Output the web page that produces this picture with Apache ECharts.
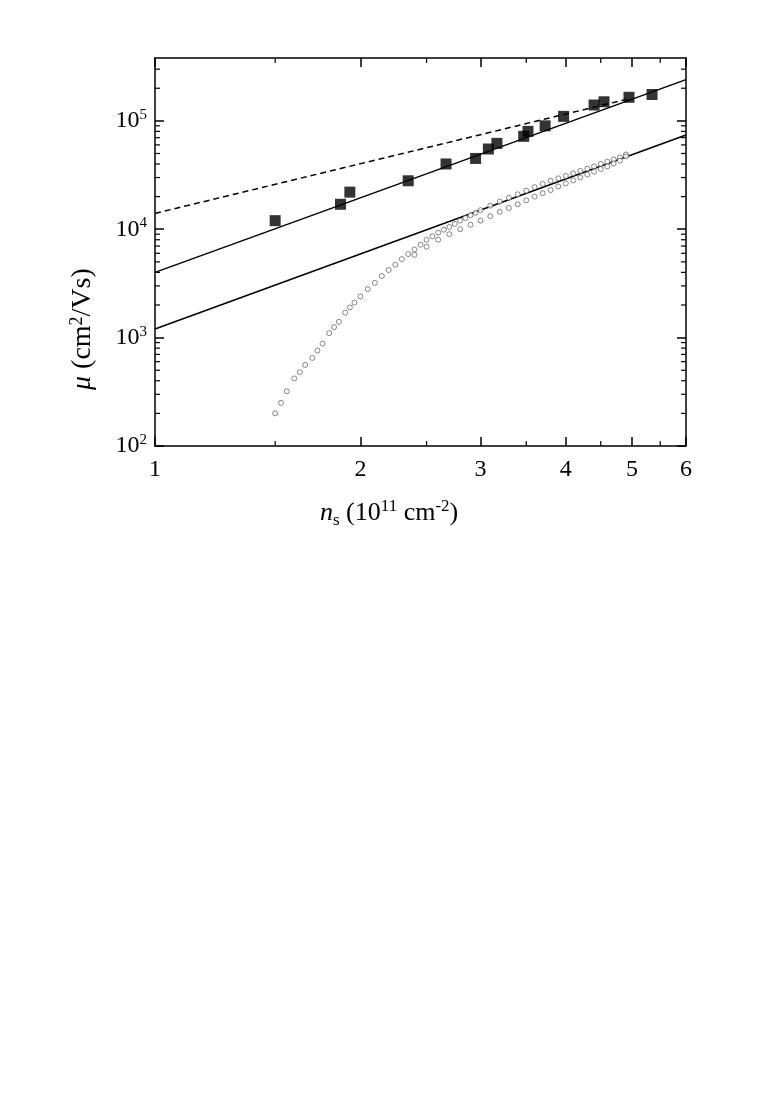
<!DOCTYPE html><html><head><meta charset="utf-8"><script src="https://cdn.jsdelivr.net/npm/echarts@6/dist/echarts.min.js"></script></head><body style="margin:0;background:#fff"><div id="c" style="width:777px;height:1118px"></div><script>
const sqX=[1.5,1.87,1.93,2.35,2.67,2.95,3.08,3.17,3.47,3.52,3.73,3.97,4.4,4.55,4.95,5.35];
const sqY=[12000,17000,22000,28000,40000,45000,55000,62000,72000,80000,90000,110000,140000,150000,165000,175000];
const upX=[1.5,1.53,1.56,1.6,1.63,1.66,1.7,1.73,1.76,1.8,1.83,1.86,1.9,1.93,1.96,2.0,2.05,2.1,2.15,2.2,2.25,2.3,2.35,2.4,2.45,2.5,2.55,2.6,2.65,2.7,2.75,2.8,2.85,2.9,2.95,3.0,3.1,3.2,3.3,3.4,3.5,3.6,3.7,3.8,3.9,4.0,4.1,4.2,4.3,4.4,4.5,4.6,4.7,4.8,4.9];
const upY=[200,250,320,420,480,560,650,760,880,1100,1250,1400,1700,1900,2100,2400,2800,3200,3700,4200,4700,5300,5900,6500,7200,8000,8600,9300,9900,10500,11200,12000,12700,13500,14200,15000,16500,18000,19500,21000,22700,24500,26200,28000,29500,31000,32800,34500,36200,38000,40000,42000,44000,46000,49000];
const loX=[2.4,2.5,2.6,2.7,2.8,2.9,3.0,3.1,3.2,3.3,3.4,3.5,3.6,3.7,3.8,3.9,4.0,4.1,4.2,4.3,4.4,4.5,4.6,4.7,4.8,4.9];
const loY=[5800,6900,8000,9000,10000,11000,12000,13200,14500,15700,17000,18500,20000,21500,23000,24800,26500,28200,30000,32000,34000,36000,38000,40500,43000,47000];
const line1X=[1,6], line1Y=[4000,240000];
const line2X=[1,6], line2Y=[1200,74000];
const dashX=[1,4.95], dashY=[14000,160000];
const xTicks=[1,2,3,4,5,6];
const yTicks=[100,1000,10000,100000];
const L=Math.log10;
const P=(xs,ys)=>xs.map((x,i)=>[L(x),L(ys[i])]);
const yMinor=[];for(let d=2;d<=5;d++)for(let k=2;k<=9;k++){const v=L(k*Math.pow(10,d));if(v<5.58)yMinor.push(v);}
const xMinor=[1.5,2.5,3.5,4.5,5.5].map(L);
const F='Liberation Serif';
const base={min:0,max:L(6),type:'value',splitLine:{show:false},axisLine:{onZero:false,lineStyle:{color:'#000',width:1.5}}};
const yb={min:2,max:5.58,type:'value',splitLine:{show:false},axisLine:{onZero:false,lineStyle:{color:'#000',width:1.5}}};
function xa(pos,lab){return Object.assign({},base,{position:pos,axisTick:{inside:true,length:9,customValues:xTicks.map(L),lineStyle:{color:'#000',width:1.5}},minorTick:{show:false},
axisLabel:{show:lab,customValues:xTicks.map(L),formatter:v=>String(Math.round(Math.pow(10,v))),fontFamily:F,fontSize:24,color:'#000',margin:12}});}
function ya(pos,lab){return Object.assign({},yb,{position:pos,axisTick:{inside:true,length:9,customValues:yTicks.map(L),lineStyle:{color:'#000',width:1.5}},
axisLabel:{show:lab,customValues:yTicks.map(L),formatter:v=>'10{s|'+Math.round(v)+'}',fontFamily:F,fontSize:24,color:'#000',margin:8,rich:{s:{fontSize:15,verticalAlign:'top',padding:[0,0,12,0],fontFamily:F}}}});}
const minorMarks=(vals,axisIdx,isX)=>({type:'custom',xAxisIndex:0,yAxisIndex:0,silent:true,data:vals.map(v=>[v]),renderItem:(p,api)=>{const v=api.value(0);const c=[];
 if(isX){const a=api.coord([v,2]),b=api.coord([v,5.58]);c.push({type:'line',shape:{x1:a[0],y1:a[1],x2:a[0],y2:a[1]-5},style:{stroke:'#000',lineWidth:1.2}});c.push({type:'line',shape:{x1:b[0],y1:b[1],x2:b[0],y2:b[1]+5},style:{stroke:'#000',lineWidth:1.2}});}
 else{const a=api.coord([0,v]),b=api.coord([L(6),v]);c.push({type:'line',shape:{x1:a[0],y1:a[1],x2:a[0]+5,y2:a[1]},style:{stroke:'#000',lineWidth:1.2}});c.push({type:'line',shape:{x1:b[0],y1:b[1],x2:b[0]-5,y2:b[1]},style:{stroke:'#000',lineWidth:1.2}});}
 return {type:'group',children:c};}});
const ch=echarts.init(document.getElementById('c'));
ch.setOption({animation:false,
grid:{left:155,right:91,top:58,bottom:672},
xAxis:[xa('bottom',true),xa('top',false)],
yAxis:[ya('left',true),ya('right',false)],
graphic:[
{type:'text',left:320,top:498,style:{text:'{i|n}{sub|s} (10{sup|11} cm{sup|-2})',font:'26px '+F,fill:'#000',rich:{i:{fontStyle:'italic',fontSize:26,fontFamily:F},sub:{fontSize:17,verticalAlign:'bottom',padding:[14,0,0,0],fontFamily:F},sup:{fontSize:17,verticalAlign:'top',padding:[0,0,12,0],fontFamily:F}}}},
{type:'text',x:68,y:390,rotation:Math.PI/2,style:{text:'{i|μ} (cm{sup|2}/Vs)',font:'28px '+F,fill:'#000',rich:{i:{fontStyle:'italic',fontSize:28,fontFamily:F},sup:{fontSize:18,verticalAlign:'top',padding:[0,0,12,0],fontFamily:F}}}}
],
series:[
{type:'line',data:P(line1X,line1Y),symbol:'none',lineStyle:{color:'#000',width:1.5},z:3},
{type:'line',data:P(line2X,line2Y),symbol:'none',lineStyle:{color:'#000',width:1.5},z:3},
{type:'line',data:P(dashX,dashY),symbol:'none',lineStyle:{color:'#000',width:1.5,type:[6,4]},z:3},
{type:'scatter',data:P(upX,upY),symbol:'circle',symbolSize:5,itemStyle:{color:'#fff',borderColor:'#444',borderWidth:0.8},z:4},
{type:'scatter',data:P(loX,loY),symbol:'circle',symbolSize:5,itemStyle:{color:'#fff',borderColor:'#444',borderWidth:0.8},z:4},
{type:'scatter',data:P(sqX,sqY),symbol:'rect',symbolSize:11,itemStyle:{color:'#000'},z:5},
minorMarks(yMinor,0,false),minorMarks(xMinor,0,true)
]});
</script></body></html>
